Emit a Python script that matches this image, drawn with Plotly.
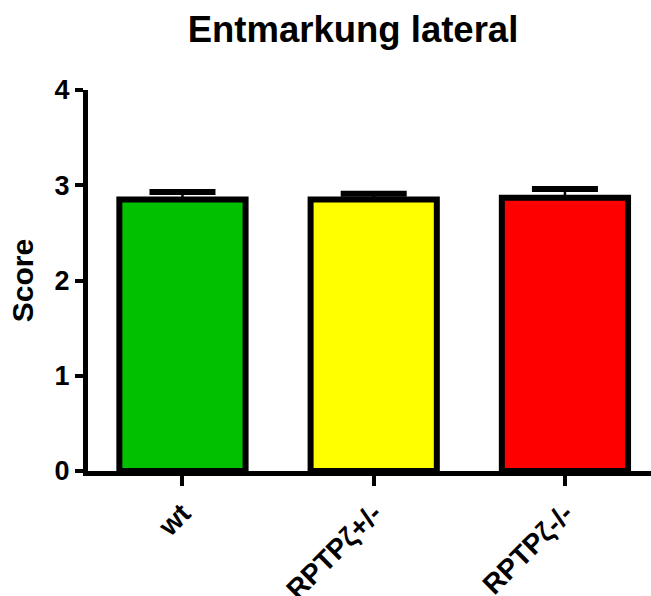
import plotly.graph_objects as go

# Group labels, mean scores and SEM (upper error only)
groups = ["wt", "RPTPζ+/-", "RPTPζ-/-"]
scores = [2.85, 2.85, 2.87]
sem = [0.08, 0.06, 0.09]
colors = ["#00C000", "#FFFF00", "#FF0000"]

FONT = "Arial, 'Liberation Sans', sans-serif"
xpos = list(range(len(groups)))
err_top = [s + e for s, e in zip(scores, sem)]

fig = go.Figure()

# Bars with a thin upward error stem
fig.add_trace(
    go.Bar(
        x=xpos,
        y=scores,
        width=0.66,
        marker=dict(color=colors, line=dict(color="black", width=6)),
        error_y=dict(
            type="data",
            symmetric=False,
            array=sem,
            arrayminus=[0] * len(sem),
            color="black",
            thickness=2.5,
            width=0,
        ),
    )
)

# Heavy caps at the top of each error bar
fig.add_trace(
    go.Scatter(
        x=xpos,
        y=err_top,
        mode="markers",
        marker=dict(size=1, opacity=0),
        error_y=dict(
            type="data",
            array=[0] * len(sem),
            color="black",
            thickness=6,
            width=33,
        ),
        hoverinfo="skip",
    )
)

fig.update_layout(
    width=651,
    height=596,
    paper_bgcolor="white",
    plot_bgcolor="white",
    margin=dict(l=88, r=0, t=90, b=125),
    showlegend=False,
    title=dict(
        text="<b>Entmarkung lateral</b>",
        font=dict(family=FONT, size=36.5, color="black"),
        x=353 / 651,
        xref="container",
        xanchor="center",
        y=0.951,
        yref="container",
        yanchor="middle",
    ),
    font=dict(family=FONT, color="black"),
)

fig.update_xaxes(
    range=[-0.494, 2.45],
    automargin=False,
    tickmode="array",
    tickvals=xpos,
    ticktext=[f"<b>{g}</b>" for g in groups],
    tickangle=-45,
    tickfont=dict(family=FONT, size=28, color="black"),
    ticks="outside",
    ticklen=10,
    tickwidth=4,
    tickcolor="black",
    showline=True,
    linecolor="black",
    linewidth=5,
    showgrid=False,
    zeroline=False,
)

fig.update_yaxes(
    range=[0, 4],
    automargin=False,
    tickvals=[0, 1, 2, 3, 4],
    ticktext=["<b>0</b>", "<b>1</b>", "<b>2</b>", "<b>3</b>", "<b>4</b>"],
    tickfont=dict(family=FONT, size=27, color="black"),
    ticks="outside",
    ticklen=8,
    tickwidth=4,
    tickcolor="black",
    showline=True,
    linecolor="black",
    linewidth=5,
    showgrid=False,
    zeroline=False,
    title=dict(
        text="<b>Score</b>",
        font=dict(family=FONT, size=30, color="black"),
        standoff=14,
    ),
)

fig.write_html("out.html")
